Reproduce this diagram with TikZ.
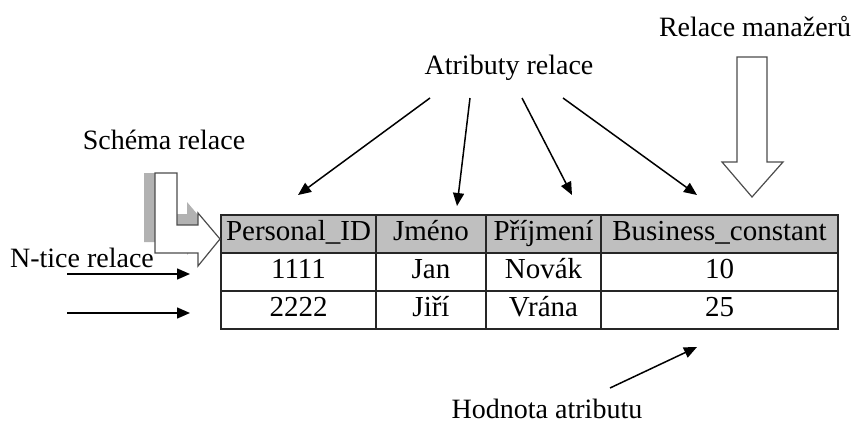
\documentclass[tikz,border=0pt]{standalone}
\usepackage{fontspec}
\setmainfont{Liberation Serif}
\usetikzlibrary{arrows.meta}
\colorlet{HeaderFill}{black!25}
\colorlet{ShadowFill}{black!30}
\tikzset{
    label text/.style={font=\fontsize{14}{17}\selectfont, inner sep=0pt},
    cell text/.style={font=\fontsize{14.5}{17}\selectfont, inner sep=0pt, anchor=base},
    table line/.style={draw=black!85, line width=0.6pt},
    thin arrow/.style={line width=0.75pt, -{Triangle[length=6.5pt,width=5.5pt]}},
    block arrow/.style={draw=black!70, line width=0.6pt, fill=white}
}

\begin{document}
\begin{tikzpicture}[x=0.5pt, y=-0.5pt]
\useasboundingbox (0,0) rectangle (851,423);

% Popisky
\node[label text] (manazeri) at (755,26) {Relace manažerů};
\node[label text] (atributy) at (509,68) {Atributy relace};
\node[label text] (schema) at (164,140) {Schéma relace};
\node[label text] (ntice) at (82,258) {N-tice relace};
\node[label text] (hodnota) at (547,409) {Hodnota atributu};

% Tabulka
\fill[HeaderFill] (221,215) rectangle (838,253);
\draw[table line] (221,215) rectangle (838,329);
\foreach \y in {253,291}
    \draw[table line] (221,\y) -- (838,\y);
\foreach \x in {376,486,601}
    \draw[table line] (\x,215) -- (\x,329);

% Obsah bunek
\foreach \row/\y/\a/\b/\c/\d in {
    h/240/Personal\_ID/Jméno/Příjmení/Business\_constant,
    r1/278/1111/Jan/Novák/10,
    r2/316/2222/Jiří/Vrána/25}{
    \node[cell text] (\row c1) at (298.5,\y) {\a};
    \node[cell text] (\row c2) at (431,\y) {\b};
    \node[cell text] (\row c3) at (543.5,\y) {\c};
    \node[cell text] (\row c4) at (719.5,\y) {\d};
}

% Konce sipek
\coordinate (a1s) at (430,98);
\coordinate (a2s) at (470,98);
\coordinate (a3s) at (522,98);
\coordinate (a4s) at (563,98);
\coordinate (a1e) at (298,195);
\coordinate (a2e) at (457,206);
\coordinate (a3e) at (572,195);
\coordinate (a4e) at (697,195);
\coordinate (hs) at (610,388);
\coordinate (he) at (697,347);
\coordinate (n1s) at (67,274);
\coordinate (n1e) at (190,274);
\coordinate (n2s) at (67,313);
\coordinate (n2e) at (190,313);

% Sipky k atributum
\draw[thin arrow] (a1s) -- (a1e);
\draw[thin arrow] (a2s) -- (a2e);
\draw[thin arrow] (a3s) -- (a3e);
\draw[thin arrow] (a4s) -- (a4e);

\draw[thin arrow] (hs) -- (he);
\draw[thin arrow] (n1s) -- (n1e);
\draw[thin arrow] (n2s) -- (n2e);

% Velka sipka dolu
\draw[block arrow] (737,57) -- (767,57) -- (767,162) -- (783,162)
    -- (752,197) -- (722,162) -- (737,162) -- cycle;

% Zalomena sipka se stinem
\fill[ShadowFill] (144,173) -- (166,173) -- (166,214) -- (187,214)
    -- (187,202) -- (209,228) -- (187,255) -- (187,242) -- (144,242) -- cycle;
\draw[block arrow] (155,173) -- (177,173) -- (177,225) -- (198,225)
    -- (198,213) -- (220,239) -- (198,266) -- (198,253) -- (155,253) -- cycle;

\end{tikzpicture}
\end{document}
